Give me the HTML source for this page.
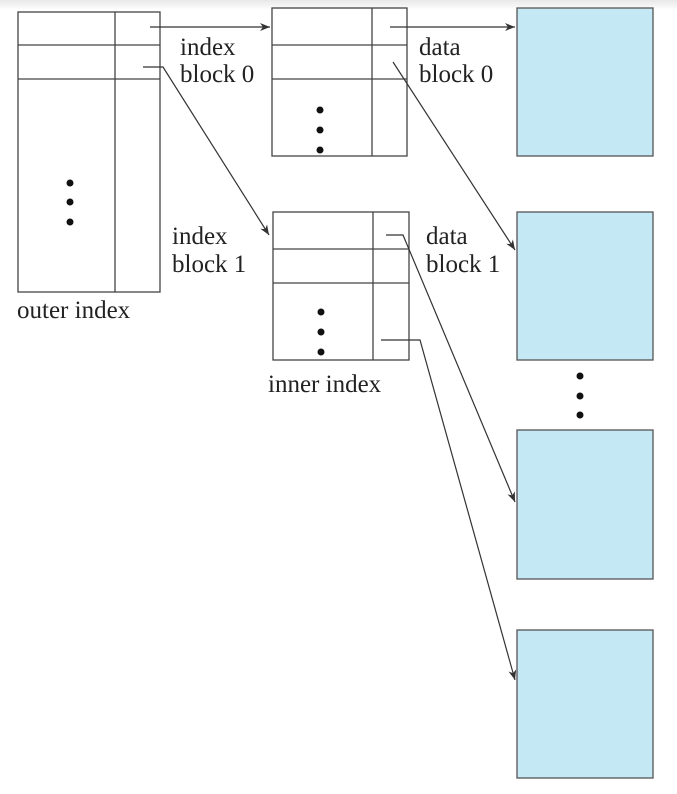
<!DOCTYPE html>
<html><head><style>
html,body{margin:0;padding:0;background:#fff;}
body{width:677px;height:789px;overflow:hidden;}
</style></head><body>
<svg width="677" height="789" viewBox="0 0 677 789" xmlns="http://www.w3.org/2000/svg">
<defs>
<linearGradient id="g" x1="0" y1="0" x2="0" y2="1"><stop offset="0" stop-color="#e8e8e8"/><stop offset="1" stop-color="#fff"/></linearGradient>
<marker id="a" markerWidth="10" markerHeight="8" refX="10" refY="4" orient="auto" markerUnits="userSpaceOnUse"><path d="M0,0 L10,4 L0,8 L3,4 Z" fill="#333"/></marker>
</defs>
<rect x="0" y="0" width="677" height="10" fill="url(#g)"/>
<g fill="none" stroke="#444" stroke-width="1.3">
<rect x="18" y="12" width="142" height="280"/>
<line x1="115" y1="12" x2="115" y2="292"/>
<line x1="18" y1="45" x2="160" y2="45"/>
<line x1="18" y1="79" x2="160" y2="79"/>
<rect x="272" y="8" width="135" height="148"/>
<line x1="372" y1="8" x2="372" y2="156"/>
<line x1="272" y1="45" x2="407" y2="45"/>
<line x1="272" y1="79" x2="407" y2="79"/>
<rect x="273" y="212" width="136" height="148"/>
<line x1="373" y1="212" x2="373" y2="360"/>
<line x1="273" y1="249" x2="409" y2="249"/>
<line x1="273" y1="283" x2="409" y2="283"/>
</g>
<g fill="#c5e9f4" stroke="#555" stroke-width="1.3">
<rect x="517" y="8" width="136" height="148"/>
<rect x="517" y="212" width="136" height="148"/>
<rect x="517" y="430" width="136" height="149"/>
<rect x="517" y="630" width="136" height="148"/>
</g>
<g fill="none" stroke="#333" stroke-width="1.2">
<path d="M150,27 L270,27" marker-end="url(#a)"/>
<path d="M143,67 L163,67 L269,235" marker-end="url(#a)"/>
<path d="M390,27 L515,27" marker-end="url(#a)"/>
<path d="M393,62 L515,250" marker-end="url(#a)"/>
<path d="M386,235 L403,235 L515,502" marker-end="url(#a)"/>
<path d="M381,340 L420,340 L515,680" marker-end="url(#a)"/>
</g>
<g fill="#111">
<circle cx="70" cy="183" r="3.5"/><circle cx="70" cy="202" r="3.5"/><circle cx="70" cy="222" r="3.5"/>
<circle cx="320" cy="110" r="3.5"/><circle cx="320" cy="130" r="3.5"/><circle cx="320" cy="150" r="3.5"/>
<circle cx="321" cy="312" r="3.5"/><circle cx="321" cy="332" r="3.5"/><circle cx="321" cy="352" r="3.5"/>
<circle cx="580" cy="376" r="3.5"/><circle cx="580" cy="396" r="3.5"/><circle cx="580" cy="415" r="3.5"/>
</g>
<g font-family="Liberation Serif, serif" font-size="25" fill="#222">
<text x="180" y="55">index</text><text x="180" y="82">block 0</text>
<text x="419" y="55">data</text><text x="419" y="82">block 0</text>
<text x="172" y="244">index</text><text x="172" y="272">block 1</text>
<text x="426" y="244">data</text><text x="426" y="272">block 1</text>
<text x="17" y="318">outer index</text>
<text x="268" y="392">inner index</text>
</g>
</svg>
</body></html>
